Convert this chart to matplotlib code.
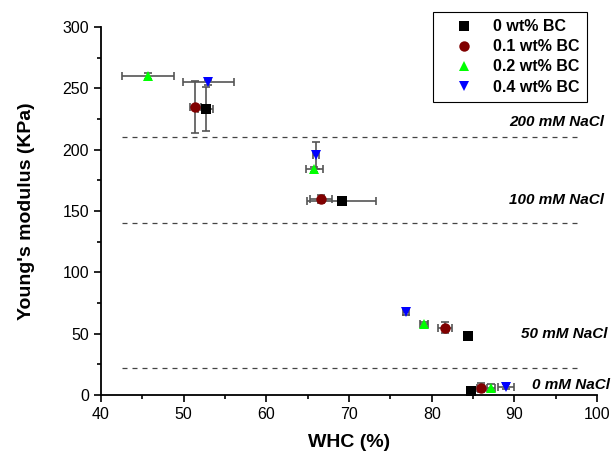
import numpy as np
import matplotlib
matplotlib.use("Agg")
import matplotlib.pyplot as plt
from matplotlib.ticker import MultipleLocator

plt.rcParams['font.family'] = ['Liberation Sans', 'DejaVu Sans']

# ---------------------------------------------
# DATA  (groups ordered: 200, 100, 50, 0 mM NaCl)
# ---------------------------------------------
series_labels = ["0 wt% BC", "0.1 wt% BC", "0.2 wt% BC", "0.4 wt% BC"]

whc_0 = [52.7, 69.1, 84.4, 84.7]
whc_0_err = [0.9, 4.2, 0.0, 0.0]
ym_0 = [233.1, 158.4, 48.1, 3.5]
ym_0_err = [18.0, 1.0, 0.0, 0.0]

whc_01 = [51.4, 66.6, 81.6, 85.9]
whc_01_err = [0.65, 1.35, 0.8, 0.4]
ym_01 = [234.6, 159.8, 54.9, 6.0]
ym_01_err = [21.0, 3.0, 4.5, 3.5]

whc_02 = [45.7, 65.8, 79.1, 87.2]
whc_02_err = [3.1, 1.05, 0.5, 0.5]
ym_02 = [260.0, 184.0, 57.6, 6.0]
ym_02_err = [2.5, 2.0, 2.0, 3.0]

whc_04 = [53.0, 66.0, 76.9, 89.0]
whc_04_err = [3.1, 0.4, 0.4, 1.0]
ym_04 = [254.9, 195.6, 67.4, 6.8]
ym_04_err = [2.0, 11.0, 2.5, 2.0]

# salt levels: dashed separators and labels
sep_levels = [210, 140, 22]
sep_xrange = [42.5, 98.0]
salt_labels = ["200 mM NaCl", "100 mM NaCl", "50 mM NaCl", "0 mM NaCl"]
salt_label_x = [100.8, 100.8, 101.2, 101.6]
salt_label_y = [222.8, 159.0, 49.7, 8.2]

# ---------------------------------------------
# PLOT
# ---------------------------------------------
fig = plt.figure(figsize=(6.15, 4.62), dpi=100)
ax = fig.add_axes([0.164, 0.145, 0.807, 0.7966])

styles = [
    (whc_0, whc_0_err, ym_0, ym_0_err, 's', 'black', 6.5),
    (whc_01, whc_01_err, ym_01, ym_01_err, 'o', '#800000', 7.5),
    (whc_02, whc_02_err, ym_02, ym_02_err, '^', '#00ff00', 7.5),
    (whc_04, whc_04_err, ym_04, ym_04_err, 'v', '#0000ff', 7.5),
]

for (x, xe, y, ye, mk, col, ms), lab in zip(styles, series_labels):
    ax.plot(x, y, linestyle='none', marker=mk, color=col, markersize=ms,
            markeredgewidth=0, label=lab, zorder=3)
    # zero-length bars -> nan so no stray caps are drawn
    xe = np.where(np.array(xe) == 0, np.nan, xe)
    ye = np.where(np.array(ye) == 0, np.nan, ye)
    ax.errorbar(x, y, xerr=xe, yerr=ye, fmt='none', ecolor='#555555',
                elinewidth=1.2, capsize=3, capthick=1.2, zorder=2)

for lvl in sep_levels:
    ax.plot(sep_xrange, [lvl, lvl], linestyle=(0, (4, 4)), color='#444444',
            linewidth=0.9, zorder=1)

for txt, tx, ty in zip(salt_labels, salt_label_x, salt_label_y):
    ax.text(tx, ty, txt, ha='right', va='center', fontsize=11,
            fontweight='bold', fontstyle='italic', clip_on=False)

ax.set_xlim(40, 100)
ax.set_ylim(0, 300)
ax.xaxis.set_major_locator(MultipleLocator(10))
ax.xaxis.set_minor_locator(MultipleLocator(5))
ax.yaxis.set_major_locator(MultipleLocator(50))
ax.yaxis.set_minor_locator(MultipleLocator(25))

for side in ['top', 'right']:
    ax.spines[side].set_visible(False)
for side in ['left', 'bottom']:
    ax.spines[side].set_linewidth(1.3)

ax.tick_params(which='major', direction='out', length=5, width=1.2, labelsize=11.5)
ax.tick_params(which='minor', direction='out', length=3, width=1.2)

ax.set_xlabel("WHC (%)", fontsize=14, fontweight='bold', labelpad=9)
ax.set_ylabel("Young's modulus (KPa)", fontsize=14, fontweight='bold', labelpad=20)

leg = ax.legend(loc='upper right', bbox_to_anchor=(0.954, 0.974),
                bbox_transform=fig.transFigure, borderaxespad=0,
                prop={'weight': 'bold', 'size': 11.5}, fancybox=False,
                edgecolor='black', framealpha=1, handlelength=3.0,
                handletextpad=0.3, labelspacing=0.32, borderpad=0.45)
leg.get_frame().set_linewidth(0.8)

fig.savefig("out.png", dpi=100)
